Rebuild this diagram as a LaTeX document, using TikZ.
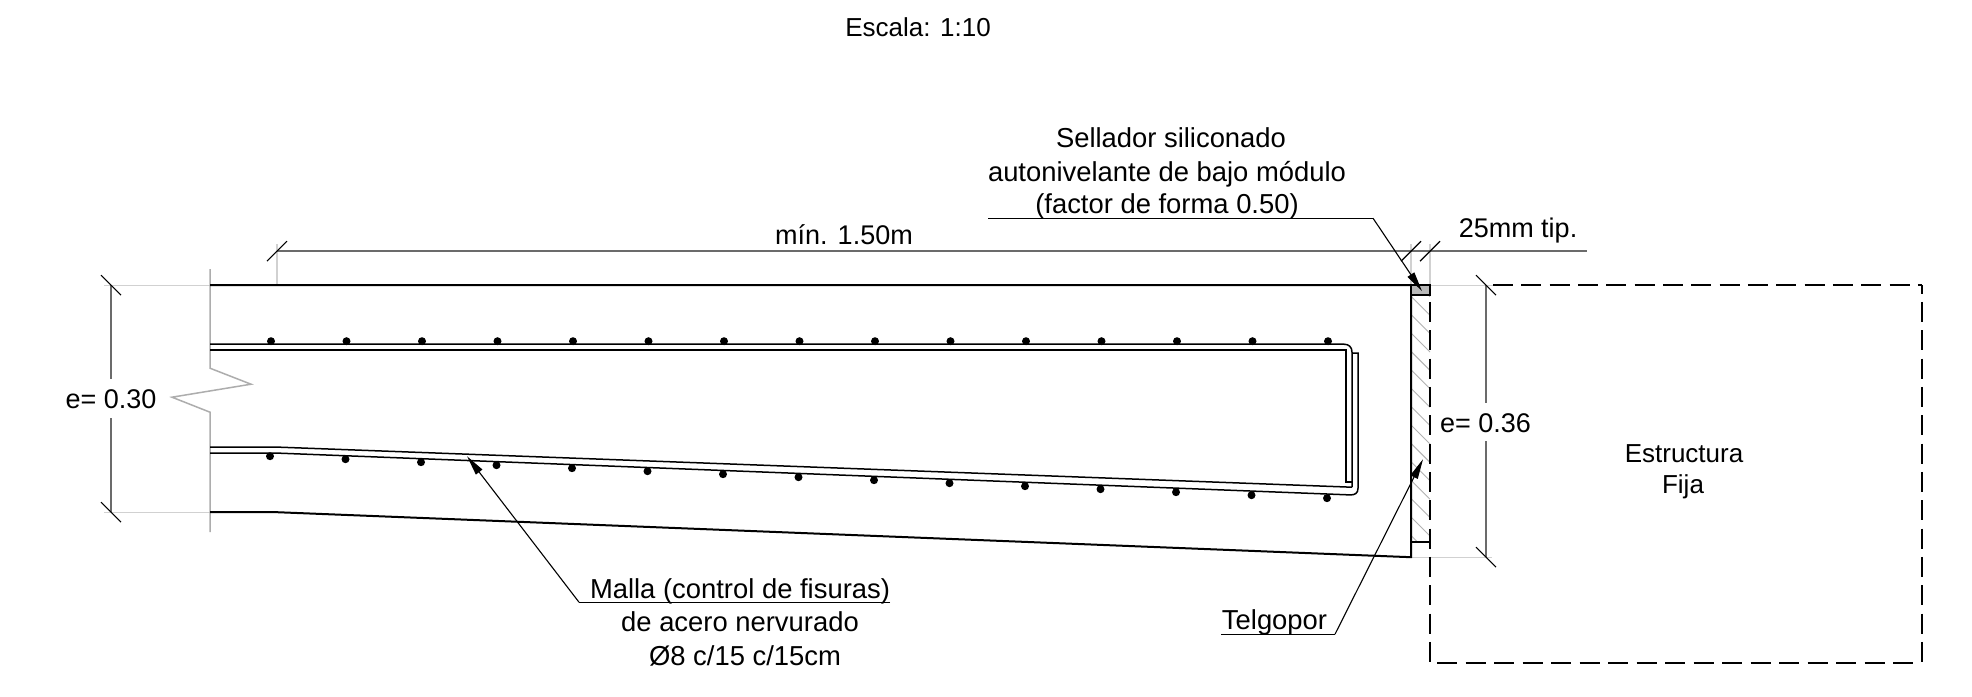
\documentclass[tikz,border=0pt]{standalone}
\usepackage{fontspec}
\setmainfont{Liberation Sans}
\usetikzlibrary{arrows.meta}
\tikzset{
  slab/.style={black,line width=2pt,line join=miter},
  rebar/.style={black,line width=1.5pt},
  breakline/.style={black!32,line width=1.5pt},
  extline/.style={black!18,line width=1.1pt},
  dimline/.style={black!58,line width=1.5pt},
  tick/.style={black,line width=1.1pt},
  leaderline/.style={black,line width=1.1pt},
  leaderarrow/.style={leaderline,-{Triangle[length=20pt,width=8pt]}},
  hatchline/.style={black!30,line width=0.9pt},
  hidden/.style={black,line width=2pt},
  bardot/.style={circle,fill=black,inner sep=0pt,minimum size=8pt},
  lab/.style={inner sep=0pt,anchor=base,text=black,font=\fontsize{27}{27}\selectfont},
  labwide/.style={lab,font=\fontsize{27.4}{27.4}\selectfont},
  labsmall/.style={lab,font=\fontsize{26}{26}\selectfont}
}
\begin{document}
\begin{tikzpicture}[x=1pt,y=-1pt]
\useasboundingbox (0,0) rectangle (1972,696);
\fill[white] (0,0) rectangle (1972,696);

\begin{scope}[yshift=0.8pt]
% extension lines
\draw[extline] (104,286) -- (210,286);
\draw[extline] (104,513) -- (210,513);
\draw[extline] (277,245) -- (277,286);
\draw[extline] (1411,245) -- (1411,286);
\draw[extline] (1430,245) -- (1430,286);
\draw[extline] (1430,286) -- (1493,286);
\draw[extline] (1411,558) -- (1492,558);

% break line
\draw[breakline] (210,270) -- (210,369) -- (251,385) -- (172,398) -- (210,413) -- (210,533);

% hatch of the filler strip
\begin{scope}
\clip (1411,296) rectangle (1430,543);
\foreach \k in {-1,0,...,13}{
  \draw[hatchline] (1411,{297+18.4*\k}) -- (1430,{316+18.4*\k});
}
\end{scope}

% slab outline
\draw[slab] (210,286) -- (1411,286) -- (1411,558) -- (277,513) -- (210,513);
\draw[slab] (1411,543) -- (1430,543);
\draw[slab,fill=black!28] (1411,286) rectangle (1430,296);

% reinforcement
\draw[rebar] (210,345) -- (1344,345) .. controls (1349,345) and (1352,348) .. (1352,353) -- (1352,488);
\draw[rebar] (210,351) -- (1346,351) -- (1346,483) -- (1352,483);
\draw[rebar] (210,448) -- (280,448) -- (1352,488);
\draw[rebar] (210,454) -- (280,454) -- (1350,495.7) .. controls (1355,495.9) and (1358,494) .. (1358,489) -- (1358,354) -- (1352,354);
\foreach \k in {0,...,14}{
  \node[bardot] (top\k) at ({271+75.5*\k},342) {};
  \node[bardot] (bot\k) at ({270+75.5*\k},{457+0.0397*75.5*\k}) {};
}

% fixed structure (dashed)
\draw[hidden,dash pattern=on 20pt off 8.33pt,dash phase=11.6pt] (1430,286) -- (1430,664);
\draw[hidden,dash pattern=on 20pt off 8.33pt] (1493,286) -- (1922,286);
\draw[hidden,dash pattern=on 20pt off 8.33pt,dash phase=11.6pt] (1922,286) -- (1922,665);
\draw[hidden,dash pattern=on 20pt off 8.5pt] (1437,664) -- (1914,664);

% dimensions
\draw[dimline] (277,252) -- (1587,252);
\draw[tick] (267,262) -- (287,242);
\draw[tick] (1401,262) -- (1421,242);
\draw[tick] (1420,262) -- (1440,242);
\draw[dimline] (111,286) -- (111,380);
\draw[dimline] (111,419) -- (111,513);
\draw[tick] (101,276) -- (121,296);
\draw[tick] (101,503) -- (121,523);
\draw[dimline] (1486,286) -- (1486,404);
\draw[dimline] (1486,442) -- (1486,558);
\draw[tick] (1476,276) -- (1496,296);
\draw[tick] (1476,548) -- (1496,568);
\end{scope}

% labels
\node[labsmall] (esc) at (918,36) {Escala: 1:10};
\node[labwide] (sel1) at (1171,147) {Sellador siliconado};
\node[labwide] (sel2) at (1167,181) {autonivelante de bajo módulo};
\node[labwide] (sel3) at (1167,213) {(factor de forma 0.50)};
\node[lab] (minl) at (844,244) {mín. 1.50m};
\node[lab] (tip) at (1518,237) {25mm tip.};
\node[lab] (e30) at (111,408) {e= 0.30};
\node[lab] (e36) at (1485.5,432) {e= 0.36};
\node[labwide] (mal1) at (740,598) {Malla (control de fisuras)};
\node[labwide] (mal2) at (740,631) {de acero nervurado};
\node[labwide] (mal3) at (745,665) {Ø8 c/15 c/15cm};
\node[labwide] (tel) at (1274.5,629) {Telgopor};
\node[labsmall] (est1) at (1684,462) {Estructura};
\node[labsmall] (est2) at (1683,493) {Fija};

% leaders
\begin{scope}[yshift=0.8pt]
\coordinate (selA) at (988,219);
\coordinate (selB) at (1373,219);
\coordinate (selT) at (1422,292);
\coordinate (malA) at (890,603);
\coordinate (malB) at (579,603);
\coordinate (malT) at (467,457);
\coordinate (telA) at (1221,635);
\coordinate (telB) at (1335,635);
\coordinate (telT) at (1423,460);
\draw[leaderline] (selA) -- (selB);
\draw[leaderarrow] (selB) -- (selT);
\draw[leaderline] (malA) -- (malB);
\draw[leaderarrow] (malB) -- (malT);
\draw[leaderline] (telA) -- (telB);
\draw[leaderarrow] (telB) -- (telT);
\end{scope}
\end{tikzpicture}
\end{document}
